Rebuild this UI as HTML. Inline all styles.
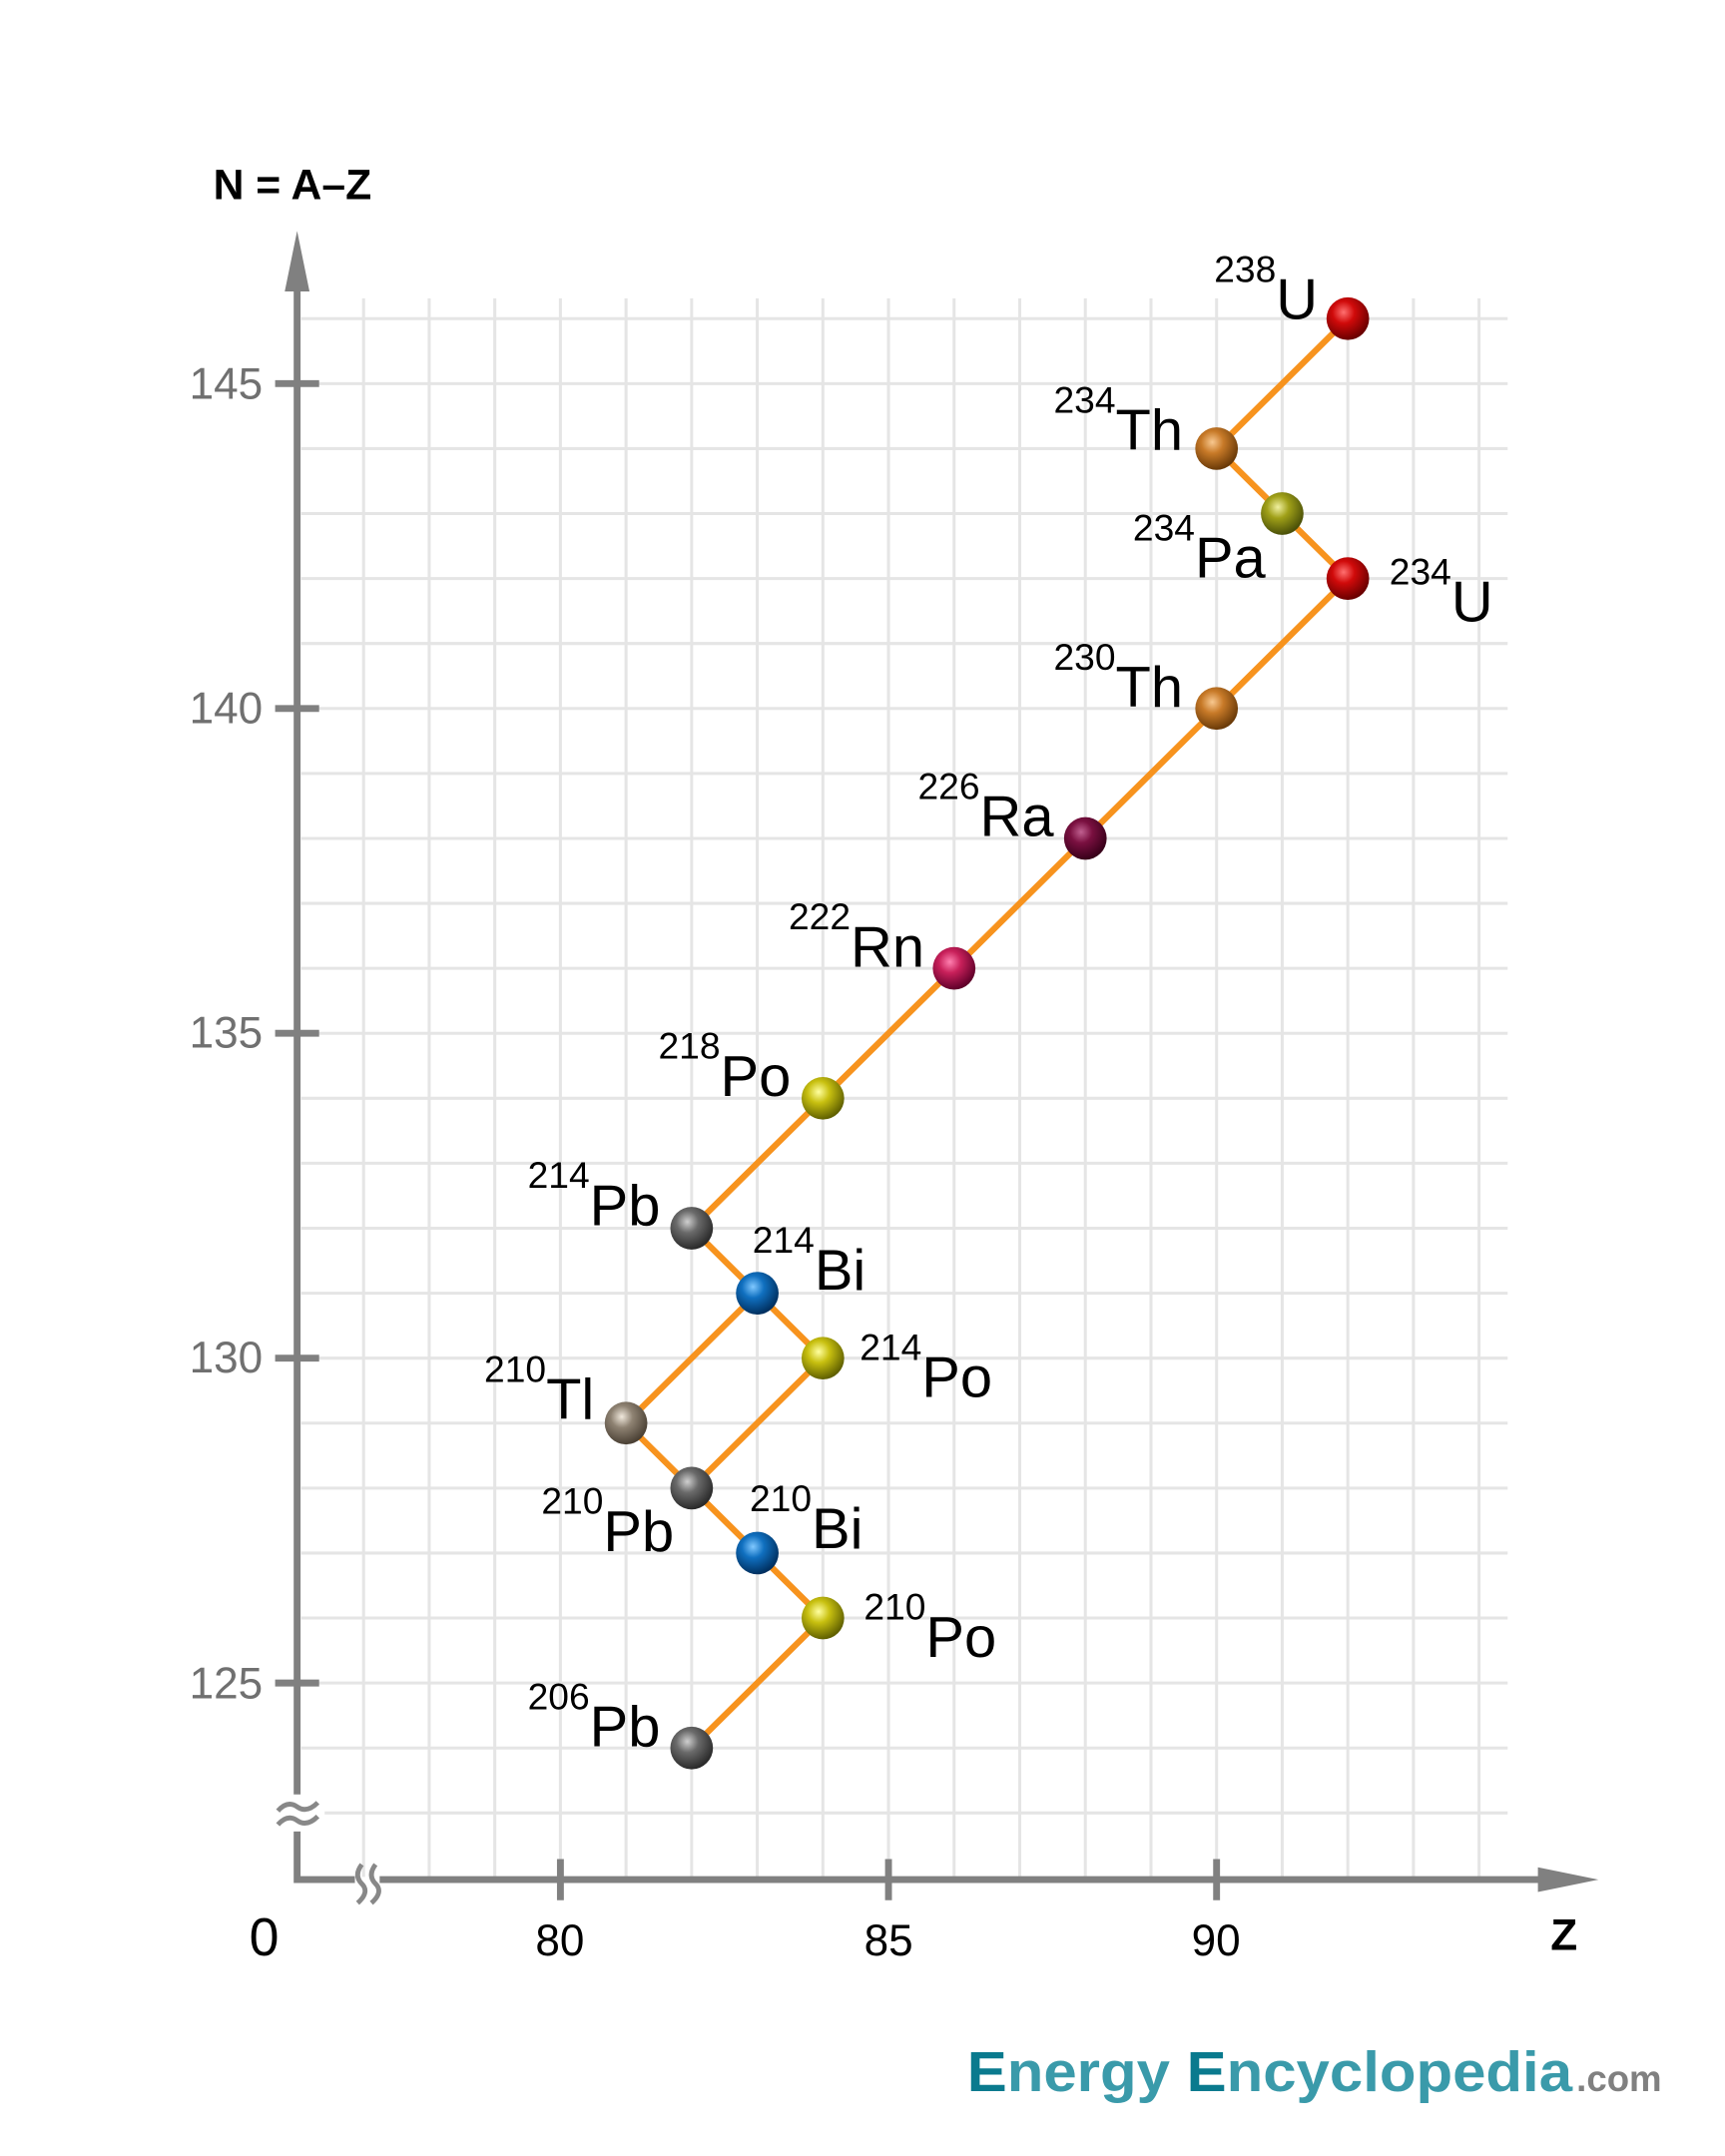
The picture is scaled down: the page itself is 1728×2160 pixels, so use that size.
<!DOCTYPE html>
<html><head><meta charset="utf-8"><style>
html,body{margin:0;padding:0;background:#fff;}
svg{display:block;}
text{font-family:"Liberation Sans","DejaVu Sans",sans-serif;}
</style></head><body>
<svg width="1728" height="2160" viewBox="0 0 1254 1568" preserveAspectRatio="none" xmlns="http://www.w3.org/2000/svg">
<defs>
<radialGradient id="gU" cx="0.4" cy="0.35" r="0.65"><stop offset="0" stop-color="#ff7070"/><stop offset="0.4" stop-color="#d00a0a"/><stop offset="1" stop-color="#6a0000"/></radialGradient>
<radialGradient id="gTh" cx="0.4" cy="0.35" r="0.65"><stop offset="0" stop-color="#f8c890"/><stop offset="0.4" stop-color="#c87a28"/><stop offset="1" stop-color="#6a3a08"/></radialGradient>
<radialGradient id="gPa" cx="0.4" cy="0.35" r="0.65"><stop offset="0" stop-color="#f0f0a0"/><stop offset="0.4" stop-color="#a0a018"/><stop offset="1" stop-color="#4a5008"/></radialGradient>
<radialGradient id="gRa" cx="0.4" cy="0.35" r="0.65"><stop offset="0" stop-color="#c06090"/><stop offset="0.4" stop-color="#7a1040"/><stop offset="1" stop-color="#38001a"/></radialGradient>
<radialGradient id="gRn" cx="0.4" cy="0.35" r="0.65"><stop offset="0" stop-color="#ff80b0"/><stop offset="0.4" stop-color="#c8205a"/><stop offset="1" stop-color="#60002a"/></radialGradient>
<radialGradient id="gPo" cx="0.4" cy="0.35" r="0.65"><stop offset="0" stop-color="#ffffa0"/><stop offset="0.4" stop-color="#c8c010"/><stop offset="1" stop-color="#606000"/></radialGradient>
<radialGradient id="gPb" cx="0.4" cy="0.35" r="0.65"><stop offset="0" stop-color="#cfcfcf"/><stop offset="0.4" stop-color="#6a6a6a"/><stop offset="1" stop-color="#2a2a2a"/></radialGradient>
<radialGradient id="gBi" cx="0.4" cy="0.35" r="0.65"><stop offset="0" stop-color="#80c8ff"/><stop offset="0.4" stop-color="#1070c0"/><stop offset="1" stop-color="#003060"/></radialGradient>
<radialGradient id="gTl" cx="0.4" cy="0.35" r="0.65"><stop offset="0" stop-color="#f0e8dc"/><stop offset="0.4" stop-color="#8e8272"/><stop offset="1" stop-color="#4a4034"/></radialGradient>
</defs>

<!-- grid -->
<g stroke="#e5e5e5" stroke-width="2.2">
<line x1="264.3" y1="217" x2="264.3" y2="1365"/>
<line x1="312" y1="217" x2="312" y2="1365"/>
<line x1="359.7" y1="217" x2="359.7" y2="1365"/>
<line x1="407.4" y1="217" x2="407.4" y2="1365"/>
<line x1="455.1" y1="217" x2="455.1" y2="1365"/>
<line x1="502.8" y1="217" x2="502.8" y2="1365"/>
<line x1="550.5" y1="217" x2="550.5" y2="1365"/>
<line x1="598.2" y1="217" x2="598.2" y2="1365"/>
<line x1="645.9" y1="217" x2="645.9" y2="1365"/>
<line x1="693.6" y1="217" x2="693.6" y2="1365"/>
<line x1="741.3" y1="217" x2="741.3" y2="1365"/>
<line x1="789" y1="217" x2="789" y2="1365"/>
<line x1="836.7" y1="217" x2="836.7" y2="1365"/>
<line x1="884.4" y1="217" x2="884.4" y2="1365"/>
<line x1="932.1" y1="217" x2="932.1" y2="1365"/>
<line x1="979.8" y1="217" x2="979.8" y2="1365"/>
<line x1="1027.5" y1="217" x2="1027.5" y2="1365"/>
<line x1="1075.2" y1="217" x2="1075.2" y2="1365"/>
</g>
<g stroke="#e5e5e5" stroke-width="2.2">
<line x1="219" y1="231.75" x2="1096" y2="231.75"/>
<line x1="219" y1="279" x2="1096" y2="279"/>
<line x1="219" y1="326.25" x2="1096" y2="326.25"/>
<line x1="219" y1="373.5" x2="1096" y2="373.5"/>
<line x1="219" y1="420.75" x2="1096" y2="420.75"/>
<line x1="219" y1="468" x2="1096" y2="468"/>
<line x1="219" y1="515.25" x2="1096" y2="515.25"/>
<line x1="219" y1="562.5" x2="1096" y2="562.5"/>
<line x1="219" y1="609.75" x2="1096" y2="609.75"/>
<line x1="219" y1="657" x2="1096" y2="657"/>
<line x1="219" y1="704.25" x2="1096" y2="704.25"/>
<line x1="219" y1="751.5" x2="1096" y2="751.5"/>
<line x1="219" y1="798.75" x2="1096" y2="798.75"/>
<line x1="219" y1="846" x2="1096" y2="846"/>
<line x1="219" y1="893.25" x2="1096" y2="893.25"/>
<line x1="219" y1="940.5" x2="1096" y2="940.5"/>
<line x1="219" y1="987.75" x2="1096" y2="987.75"/>
<line x1="219" y1="1035" x2="1096" y2="1035"/>
<line x1="219" y1="1082.25" x2="1096" y2="1082.25"/>
<line x1="219" y1="1129.5" x2="1096" y2="1129.5"/>
<line x1="219" y1="1176.75" x2="1096" y2="1176.75"/>
<line x1="219" y1="1224" x2="1096" y2="1224"/>
<line x1="219" y1="1271.25" x2="1096" y2="1271.25"/>
<line x1="236" y1="1318.5" x2="1096" y2="1318.5"/>
</g>

<!-- axes -->
<g stroke="#808080" stroke-width="5" fill="none">
<polyline points="216,1332 216,1367 258,1367"/>
<line x1="216" y1="196" x2="216" y2="1305"/>
<line x1="276" y1="1367" x2="1140" y2="1367"/>
<line x1="200" y1="279" x2="232" y2="279"/>
<line x1="200" y1="515.25" x2="232" y2="515.25"/>
<line x1="200" y1="751.5" x2="232" y2="751.5"/>
<line x1="200" y1="987.75" x2="232" y2="987.75"/>
<line x1="200" y1="1224" x2="232" y2="1224"/>
<line x1="407.4" y1="1352" x2="407.4" y2="1382"/>
<line x1="645.9" y1="1352" x2="645.9" y2="1382"/>
<line x1="884.4" y1="1352" x2="884.4" y2="1382"/>
</g>
<g stroke="#888" stroke-width="3.5" fill="none">
<path d="M202,1317 q7,-8 14,-3 t15,-3"/>
<path d="M202,1327 q7,-8 14,-3 t15,-3"/>
<path d="M263,1356 q-6,8 0,14 t-3,14"/>
<path d="M273,1356 q-6,8 0,14 t-3,14"/>
</g>
<polygon points="216,168 207,212 225,212" fill="#808080"/>
<polygon points="1162,1367 1118,1358 1118,1376" fill="#808080"/>

<!-- axis labels -->
<text x="155" y="145" font-size="31" font-weight="bold" fill="#000">N = A–Z</text>
<g fill="#707070" font-size="32" text-anchor="end">
<text x="191" y="290">145</text>
<text x="191" y="526">140</text>
<text x="191" y="762">135</text>
<text x="191" y="998">130</text>
<text x="191" y="1235">125</text>
</g>
<text x="192" y="1422" font-size="39" text-anchor="middle" fill="#000">0</text>
<g fill="#000" font-size="32" text-anchor="middle">
<text x="407" y="1422">80</text>
<text x="646" y="1422">85</text>
<text x="884" y="1422">90</text>
</g>
<text x="1137" y="1418" font-size="32" font-weight="bold" text-anchor="middle" fill="#000">Z</text>

<!-- chain -->
<g stroke="#f7931e" stroke-width="4.5" fill="none" stroke-linecap="round">
<polyline points="979.8,231.75 884.4,326.25 932.1,373.5 979.8,420.75 884.4,515.25 789,609.75 693.6,704.25 598.2,798.75 502.8,893.25 550.5,940.5 598.2,987.75 502.8,1082.25 550.5,1129.5 598.2,1176.75 502.8,1271.25"/>
<polyline points="550.5,940.5 455.1,1035 502.8,1082.25"/>
</g>

<!-- nodes -->
<circle cx="979.8" cy="231.75" r="15.5" fill="url(#gU)"/>
<circle cx="884.4" cy="326.25" r="15.5" fill="url(#gTh)"/>
<circle cx="932.1" cy="373.5" r="15.5" fill="url(#gPa)"/>
<circle cx="979.8" cy="420.75" r="15.5" fill="url(#gU)"/>
<circle cx="884.4" cy="515.25" r="15.5" fill="url(#gTh)"/>
<circle cx="789" cy="609.75" r="15.5" fill="url(#gRa)"/>
<circle cx="693.6" cy="704.25" r="15.5" fill="url(#gRn)"/>
<circle cx="598.2" cy="798.75" r="15.5" fill="url(#gPo)"/>
<circle cx="502.8" cy="893.25" r="15.5" fill="url(#gPb)"/>
<circle cx="550.5" cy="940.5" r="15.5" fill="url(#gBi)"/>
<circle cx="598.2" cy="987.75" r="15.5" fill="url(#gPo)"/>
<circle cx="455.1" cy="1035" r="15.5" fill="url(#gTl)"/>
<circle cx="502.8" cy="1082.25" r="15.5" fill="url(#gPb)"/>
<circle cx="550.5" cy="1129.5" r="15.5" fill="url(#gBi)"/>
<circle cx="598.2" cy="1176.75" r="15.5" fill="url(#gPo)"/>
<circle cx="502.8" cy="1271.25" r="15.5" fill="url(#gPb)"/>

<!-- labels -->
<g fill="#000" font-size="42">
<text x="958" y="232" text-anchor="end"><tspan font-size="27" dy="-27">238</tspan><tspan dy="27">U</tspan></text>
<text x="860" y="327" text-anchor="end"><tspan font-size="27" dy="-27">234</tspan><tspan dy="27">Th</tspan></text>
<text x="920" y="420" text-anchor="end"><tspan font-size="27" dy="-27">234</tspan><tspan dy="27">Pa</tspan></text>
<text x="1010" y="452"><tspan font-size="27" dy="-27">234</tspan><tspan dy="27">U</tspan></text>
<text x="860" y="514" text-anchor="end"><tspan font-size="27" dy="-27">230</tspan><tspan dy="27">Th</tspan></text>
<text x="766" y="608" text-anchor="end"><tspan font-size="27" dy="-27">226</tspan><tspan dy="27">Ra</tspan></text>
<text x="672" y="703" text-anchor="end"><tspan font-size="27" dy="-27">222</tspan><tspan dy="27">Rn</tspan></text>
<text x="575" y="797" text-anchor="end"><tspan font-size="27" dy="-27">218</tspan><tspan dy="27">Po</tspan></text>
<text x="480" y="891" text-anchor="end"><tspan font-size="27" dy="-27">214</tspan><tspan dy="27">Pb</tspan></text>
<text x="547" y="938"><tspan font-size="27" dy="-27">214</tspan><tspan dy="27">Bi</tspan></text>
<text x="625" y="1016"><tspan font-size="27" dy="-27">214</tspan><tspan dy="27">Po</tspan></text>
<text x="432" y="1032" text-anchor="end"><tspan font-size="27" dy="-27">210</tspan><tspan dy="27">Tl</tspan></text>
<text x="490" y="1128" text-anchor="end"><tspan font-size="27" dy="-27">210</tspan><tspan dy="27">Pb</tspan></text>
<text x="545" y="1126"><tspan font-size="27" dy="-27">210</tspan><tspan dy="27">Bi</tspan></text>
<text x="628" y="1205"><tspan font-size="27" dy="-27">210</tspan><tspan dy="27">Po</tspan></text>
<text x="480" y="1270" text-anchor="end"><tspan font-size="27" dy="-27">206</tspan><tspan dy="27">Pb</tspan></text>
</g>

<!-- logo -->
<text x="703" y="1521" font-size="41" font-weight="bold" textLength="440" lengthAdjust="spacingAndGlyphs"><tspan fill="#0a7a8e">E</tspan><tspan fill="#3a9aaa">nergy </tspan><tspan fill="#0a7a8e">E</tspan><tspan fill="#3a9aaa">ncyclopedia</tspan></text>
<text x="1146" y="1521" font-size="27" font-weight="bold" fill="#808080" textLength="62" lengthAdjust="spacingAndGlyphs">.com</text>
</svg>
</body></html>
